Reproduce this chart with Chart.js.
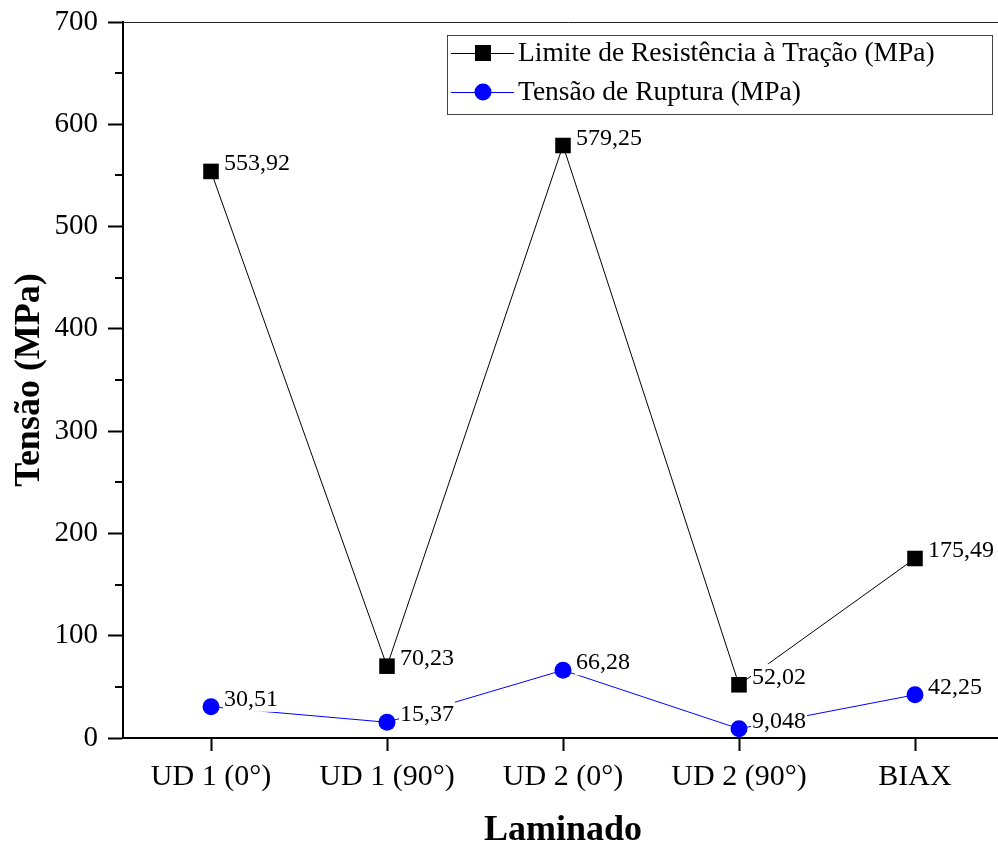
<!DOCTYPE html>
<html>
<head>
<meta charset="utf-8">
<script src="https://cdn.jsdelivr.net/npm/chart.js@4.4.1/dist/chart.umd.min.js"></script>
<style>
  html, body { margin: 0; background: #fff; overflow: hidden; }
  #wrap { width: 1014px; height: 849px; position: relative; }
</style>
</head>
<body>
<div id="wrap"><canvas id="chart-area"></canvas></div>
<script>
const categories = ['UD 1 (0°)', 'UD 1 (90°)', 'UD 2 (0°)', 'UD 2 (90°)', 'BIAX'];
const limiteTracao = [553.92, 70.23, 579.25, 52.02, 175.49];
const tensaoRuptura = [30.51, 15.37, 66.28, 9.048, 42.25];
const seriesNames = ['Limite de Resistência à Tração (MPa)', 'Tensão de Ruptura (MPa)'];
const yTicks = [0, 100, 200, 300, 400, 500, 600, 700];

const serif = '"Liberation Serif", "Times New Roman", serif';

const fmt = function(v) {
  return String(v).replace('.', ',');
};

// value labels with white box, drawn over the lines
const valueLabels = {
  id: 'valueLabels',
  afterDatasetsDraw(chart) {
    const ctx = chart.ctx;
    ctx.save();
    ctx.font = '24px ' + serif;
    ctx.textBaseline = 'alphabetic';
    chart.data.datasets.forEach(function(ds, i) {
      const meta = chart.getDatasetMeta(i);
      meta.data.forEach(function(pt, j) {
        const txt = fmt(ds.data[j]);
        const x = pt.x + 13;
        const base = pt.y - 1;
        const w = ctx.measureText(txt).width;
        ctx.fillStyle = '#fff';
        ctx.fillRect(x - 1, base - 20, w + 2, 26);
        ctx.fillStyle = '#000';
        ctx.fillText(txt, x, base);
      });
    });
    ctx.restore();
  }
};

// minor ticks, top frame line and legend box
const extras = {
  id: 'extras',
  afterDraw(chart) {
    const ctx = chart.ctx;
    const area = chart.chartArea;
    const y = chart.scales.y;
    ctx.save();
    ctx.strokeStyle = '#000';
    ctx.lineWidth = 2;
    for (let v = 50; v < 700; v += 100) {
      const py = Math.round(y.getPixelForValue(v));
      ctx.beginPath();
      ctx.moveTo(area.left - 8, py);
      ctx.lineTo(area.left, py);
      ctx.stroke();
    }
    ctx.lineWidth = 1;
    ctx.strokeStyle = '#222';
    ctx.beginPath();
    ctx.moveTo(area.left, area.top + 0.5);
    ctx.lineTo(chart.width, area.top + 0.5);
    ctx.stroke();

    // legend
    const bx = 447.5, by = 35.5, bw = 545, bh = 79;
    ctx.strokeStyle = '#444';
    ctx.strokeRect(bx, by, bw, bh);
    const rows = [53, 92];
    ctx.font = '27.5px ' + serif;
    ctx.textBaseline = 'middle';
    chart.data.datasets.forEach(function(ds, i) {
      const ry = rows[i];
      ctx.strokeStyle = ds.borderColor;
      ctx.lineWidth = 1;
      ctx.beginPath();
      ctx.moveTo(451, ry + 0.5);
      ctx.lineTo(514, ry + 0.5);
      ctx.stroke();
      ctx.fillStyle = ds.backgroundColor;
      if (ds.pointStyle === 'rect') {
        ctx.fillRect(475, ry - 8, 16, 16);
      } else {
        ctx.beginPath();
        ctx.arc(483, ry, 8.5, 0, Math.PI * 2);
        ctx.fill();
      }
      ctx.fillStyle = '#000';
      ctx.fillText(ds.label, 518, ry + 1);
    });
    ctx.restore();
  }
};

window.onload = function() {
  let ctx = document.getElementById('chart-area').getContext('2d');
  new Chart(ctx, {
    type: 'line',
    data: {
      labels: categories,
      datasets: [{
        label: seriesNames[0],
        data: limiteTracao,
        borderColor: '#000',
        backgroundColor: '#000',
        borderWidth: 1,
        pointStyle: 'rect',
        pointRadius: 11,
        pointBorderWidth: 0,
        tension: 0
      }, {
        label: seriesNames[1],
        data: tensaoRuptura,
        borderColor: '#0000ff',
        backgroundColor: '#0000ff',
        borderWidth: 1,
        pointStyle: 'circle',
        pointRadius: 8.5,
        pointBorderWidth: 0,
        tension: 0
      }]
    },
    options: {
      responsive: true,
      maintainAspectRatio: false,
      animation: false,
      layout: { padding: { top: 22, right: 0, left: 0, bottom: 0 } },
      plugins: {
        legend: { display: false },
        tooltip: { enabled: false }
      },
      scales: {
        x: {
          offset: true,
          grid: { drawOnChartArea: false, tickLength: 13, tickWidth: 2, tickColor: '#000' },
          border: { color: '#000', width: 2 },
          ticks: { color: '#000', padding: 8, font: { family: serif, size: 30 } },
          title: {
            display: true, text: 'Laminado', color: '#000',
            font: { family: serif, size: 36, weight: 'bold', lineHeight: 1 },
            padding: 0
          },
          afterFit: function(s) { s.height = 111; }
        },
        y: {
          min: 0,
          max: 700,
          afterBuildTicks: function(s) { s.ticks = yTicks.map(v => ({ value: v })); },
          grid: { drawOnChartArea: false, tickLength: 15, tickWidth: 2, tickColor: '#000' },
          border: { color: '#000', width: 2 },
          ticks: { color: '#000', padding: 10, font: { family: serif, size: 29, lineHeight: 0.8 } },
          title: {
            display: true, text: 'Tensão (MPa)', color: '#000',
            font: { family: serif, size: 36, weight: 'bold', lineHeight: 1 },
            padding: { top: 12, bottom: 0 }
          },
          afterFit: function(s) { s.width = 123; }
        }
      }
    },
    plugins: [valueLabels, extras]
  });
};
</script>
</body>
</html>
